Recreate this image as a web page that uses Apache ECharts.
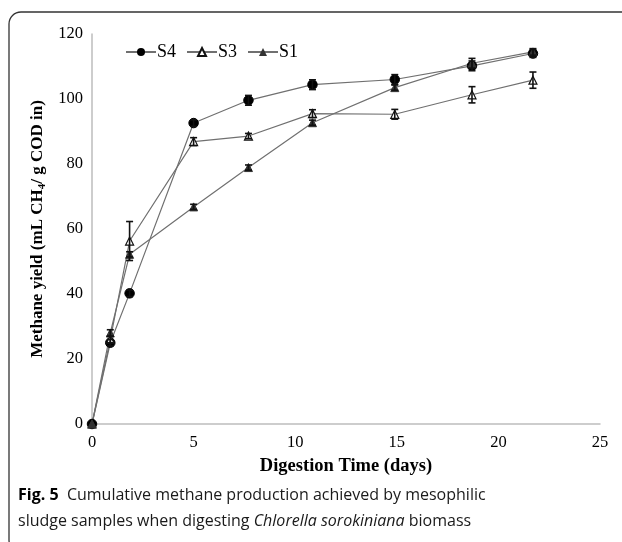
<!DOCTYPE html>
<html>
<head>
<meta charset="utf-8">
<script src="https://cdn.jsdelivr.net/npm/echarts@6/dist/echarts.min.js"></script>
<style>
html,body{margin:0;padding:0;background:#fff;}
#chart{width:622px;height:542px;}
</style>
</head>
<body>
<div id="chart"></div>
<script>
var days = [0, 0.9, 1.85, 5, 7.7, 10.85, 14.9, 18.7, 21.7];
var s4 = [0, 25, 40.2, 92.6, 99.6, 104.4, 106, 110.2, 114];
var s4Err = [0, 1, 1, 1, 1.5, 1.5, 1.5, 1.5, 1.2];
var s3 = [0, 26, 56.3, 86.9, 88.6, 95.5, 95.3, 101.3, 105.8];
var s3Err = [0, 1, 6, 1.2, 0.8, 1.2, 1.5, 2.5, 2.5];
var s1 = [0, 28, 52.2, 66.8, 78.9, 92.7, 103.5, 111, 114.5];
var s1Err = [0, 1, 0.8, 0.8, 0.8, 0.8, 0.8, 1.5, 1];
var xTicks = [0, 5, 10, 15, 20, 25];
var yTicks = [0, 20, 40, 60, 80, 100, 120];

function pairs(v) { return days.map(function (d, i) { return [d, v[i]]; }); }
function errData(v, e) { return days.map(function (d, i) { return [d, v[i], e[i]]; }); }

function errSeries(v, e) {
  return {
    type: 'custom',
    data: errData(v, e),
    z: 5,
    silent: true,
    renderItem: function (params, api) {
      var x = api.value(0), y = api.value(1), er = api.value(2);
      if (!er) return null;
      var lo = api.coord([x, y - er]);
      var hi = api.coord([x, y + er]);
      var w = 3.5;
      var st = { stroke: '#111', lineWidth: 1.6 };
      return {
        type: 'group',
        children: [
          { type: 'line', shape: { x1: lo[0], y1: lo[1], x2: hi[0], y2: hi[1] }, style: st },
          { type: 'line', shape: { x1: lo[0] - w, y1: lo[1], x2: lo[0] + w, y2: lo[1] }, style: st },
          { type: 'line', shape: { x1: hi[0] - w, y1: hi[1], x2: hi[0] + w, y2: hi[1] }, style: st }
        ]
      };
    }
  };
}

var chart = echarts.init(document.getElementById('chart'));
var serif = '"Liberation Serif", "Times New Roman", serif';
var lineStyle = { color: '#707070', width: 1.2 };

chart.setOption({
  animation: false,
  backgroundColor: '#fff',
  grid: { left: 92, right: 22, top: 34, bottom: 118 },
  legend: {
    left: 120, top: 38,
    itemWidth: 30, itemHeight: 10, itemGap: 10,
    textStyle: { fontFamily: serif, fontSize: 18, color: '#000', padding: [0, 0, 0, -4] },
    data: ['S4', 'S3', 'S1']
  },
  xAxis: {
    type: 'value', min: 0, max: 25, interval: 5,
    axisLine: { show: true, lineStyle: { color: '#bdbdbd', width: 1.5 } },
    axisTick: { show: false },
    splitLine: { show: false },
    axisLabel: { fontFamily: serif, fontSize: 16.5, color: '#000', margin: 10 },
    name: 'Digestion Time (days)',
    nameLocation: 'middle', nameGap: 33,
    nameTextStyle: { fontFamily: serif, fontSize: 18.5, fontWeight: 'bold', color: '#000' }
  },
  yAxis: {
    type: 'value', min: 0, max: 120, interval: 20,
    axisLine: { show: true, lineStyle: { color: '#bdbdbd', width: 1.5 } },
    axisTick: { show: false },
    splitLine: { show: false },
    axisLabel: { fontFamily: serif, fontSize: 16.5, color: '#000', margin: 9 },
    name: '{a|Methane yield (mL CH}{s|4}{a|/ g COD in)}',
    nameLocation: 'middle', nameGap: 36,
    nameTextStyle: {
      rich: {
        a: { fontFamily: serif, fontSize: 17, fontWeight: 'bold', color: '#000' },
        s: { fontFamily: serif, fontSize: 11, fontWeight: 'bold', color: '#000', verticalAlign: 'bottom', padding: [8, 0, 0, 0] }
      }
    }
  },
  series: [
    {
      name: 'S4', type: 'line', data: pairs(s4), symbol: 'circle', symbolSize: 9.5,
      itemStyle: { color: '#000', borderColor: '#000' }, lineStyle: lineStyle, z: 3
    },
    {
      name: 'S3', type: 'line', data: pairs(s3), symbol: 'triangle', symbolSize: 8,
      itemStyle: { color: '#fff', borderColor: '#111', borderWidth: 1.2 }, lineStyle: lineStyle, z: 3
    },
    {
      name: 'S1', type: 'line', data: pairs(s1), symbol: 'triangle', symbolSize: 8,
      itemStyle: { color: '#333', borderColor: '#333' }, lineStyle: lineStyle, z: 3
    },
    errSeries(s4, s4Err),
    errSeries(s3, s3Err),
    errSeries(s1, s1Err)
  ],
  graphic: [
    {
      type: 'rect', z: -1,
      shape: { x: 9, y: 12, width: 640, height: 540, r: 12 },
      style: { fill: 'none', stroke: '#333', lineWidth: 1.3 }
    },
    {
      type: 'text', left: 18, top: 482,
      style: {
        text: '{b|Fig. 5}{n|  Cumulative methane production achieved by mesophilic}\n{n|sludge samples when digesting }{i|Chlorella sorokiniana}{n| biomass}',
        lineHeight: 26,
        rich: {
          b: { fontFamily: '"Open Sans", sans-serif', fontSize: 16, fontWeight: 'bold', fill: '#000' },
          n: { fontFamily: '"Open Sans", sans-serif', fontSize: 16, fill: '#1a1a1a' },
          i: { fontFamily: '"Open Sans", sans-serif', fontSize: 16, fontStyle: 'italic', fill: '#1a1a1a' }
        }
      }
    }
  ]
});
</script>
</body>
</html>
